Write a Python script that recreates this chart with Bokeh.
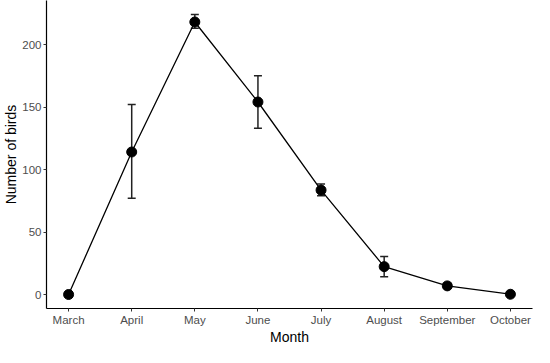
from bokeh.plotting import figure
from bokeh.models import FixedTicker, Range1d, Whisker, ColumnDataSource, TeeHead
from bokeh.embed import file_html
from bokeh.resources import INLINE

months = ["March", "April", "May", "June", "July", "August", "September", "October"]
month_idx = [1, 2, 3, 4, 5, 6, 7, 8]
birds = [0, 114, 218, 154, 83.5, 22.3, 6.9, 0.2]
lower = [0, 77, 213, 133, 79, 14.3, 5.5, 0]
upper = [0, 152, 224, 175, 88.5, 30.5, 8.3, 0.4]
y_ticks = [0, 50, 100, 150, 200]

src = ColumnDataSource(dict(x=month_idx, y=birds, lo=lower, hi=upper))

p = figure(width=534, height=347, output_backend="svg", toolbar_location=None,
           x_range=Range1d(0.65, 8.35), y_range=Range1d(-11.2, 235.2),
           min_border_left=30, min_border_right=2, min_border_top=0, min_border_bottom=0)

p.line("x", "y", source=src, line_color="black", line_width=1.3)
p.add_layout(Whisker(source=src, base="x", upper="hi", lower="lo",
                     line_color="#222222", line_width=1.5,
                     upper_head=TeeHead(size=8, line_color="#222222", line_width=1.5),
                     lower_head=TeeHead(size=8, line_color="#222222", line_width=1.5)))
p.scatter("x", "y", source=src, size=10, color="black")

p.grid.visible = False
p.outline_line_color = None

p.xaxis.ticker = FixedTicker(ticks=month_idx)
p.xaxis.major_label_overrides = {i: m for i, m in zip(month_idx, months)}
p.yaxis.ticker = FixedTicker(ticks=y_ticks)

for ax in (p.xaxis, p.yaxis):
    ax.axis_line_color = "black"
    ax.axis_line_width = 1.2
    ax.major_tick_line_color = "#333333"
    ax.major_tick_out = 3
    ax.major_tick_in = 0
    ax.minor_tick_line_color = None
    ax.major_label_text_font = "Liberation Sans"
    ax.major_label_text_font_size = "11.5px"
    ax.major_label_text_color = "#4D4D4D"
    ax.major_label_standoff = 2
    ax.axis_label_text_font = "Liberation Sans"
    ax.axis_label_text_font_size = "14px"
    ax.axis_label_text_font_style = "normal"
    ax.axis_label_text_color = "black"
    ax.axis_label_standoff = 0

p.xaxis.axis_label = "Month"
p.yaxis.axis_label = "Number of birds"

open("out.html", "w").write(file_html(p, INLINE))
